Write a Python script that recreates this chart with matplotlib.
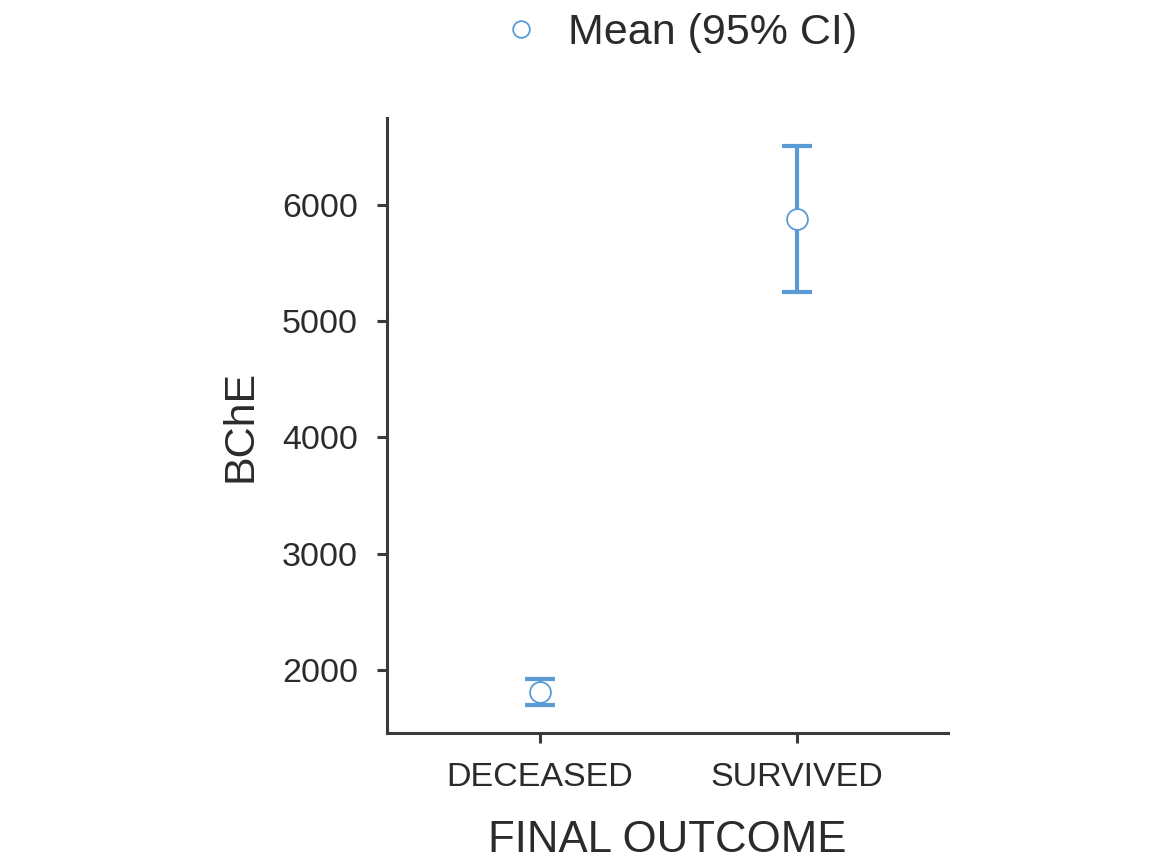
import matplotlib
matplotlib.use("Agg")
import matplotlib.pyplot as plt
from matplotlib.lines import Line2D

categories = ["DECEASED", "SURVIVED"]
means = [1810, 5879]
ci_low = [1698, 5250]
ci_high = [1922, 6509]
yticks = [2000, 3000, 4000, 5000, 6000]

plt.rcParams['font.family'] = ['Liberation Sans', 'DejaVu Sans']

blue = "#5B9BD5"
axc = "#3a3a3a"

fig = plt.figure(figsize=(11.59, 8.61), dpi=100)
ax = fig.add_axes([0.334, 0.1487, 0.484, 0.7143])

x = list(range(len(categories)))
yerr = [[m - l for m, l in zip(means, ci_low)], [h - m for m, h in zip(means, ci_high)]]
ax.errorbar(x, means, yerr=yerr, fmt='none', ecolor=blue,
            elinewidth=3, capsize=10.5, capthick=3, zorder=2)
ax.plot(x, means, linestyle='none', marker='o', markersize=15,
        markerfacecolor='white', markeredgecolor=blue, markeredgewidth=1.3, zorder=3)

ax.set_xlim(-0.595, 1.588)
ax.set_ylim(1457, 6750)
ax.set_xticks(x)
ax.set_xticklabels(categories)
ax.set_yticks(yticks)

for s in ['top', 'right']:
    ax.spines[s].set_visible(False)
for s in ['left', 'bottom']:
    ax.spines[s].set_color(axc)
    ax.spines[s].set_linewidth(2.2)

ax.tick_params(axis='both', colors=axc, length=7, width=2.2, labelsize=24.5,
               labelcolor='#2b2b2b', pad=14)

ax.set_xlabel("FINAL OUTCOME", fontsize=31.5, color='#2b2b2b', labelpad=19)
ax.set_ylabel("BChE", fontsize=31, color='#2b2b2b', labelpad=15.5)

handle = Line2D([], [], marker='o', linestyle='none', markersize=12,
                markerfacecolor='white', markeredgecolor=blue, markeredgewidth=1.3)
fig.legend(handles=[handle], labels=["Mean (95% CI)"], loc='center',
           bbox_to_anchor=(0.585, 0.962), frameon=False, fontsize=31,
           handlelength=1.0, handletextpad=0.6, labelcolor='#2b2b2b')

fig.savefig("out.png", dpi=100, facecolor='white')
